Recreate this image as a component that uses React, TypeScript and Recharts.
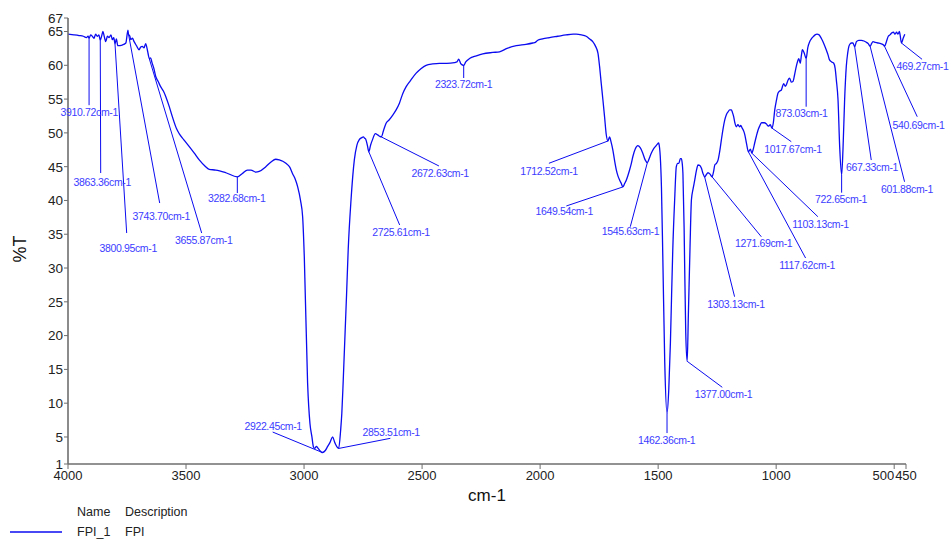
import { LineChart, Line, XAxis, YAxis, ReferenceLine, ReferenceDot } from 'recharts';

// FTIR transmittance spectrum, wavenumber (cm-1) descending
const wavenumbers = [
  4000, 3975, 3953, 3935, 3922, 3915, 3910.72, 3904, 3897, 3890, 3883, 3876, 3869, 3863.36, 3857, 3852,
  3846, 3840, 3833, 3826, 3818, 3812, 3806, 3800.95, 3795, 3789, 3770, 3755, 3746, 3743.7, 3738, 3734,
  3727, 3720, 3710, 3699, 3692, 3685, 3678, 3671, 3664, 3660, 3655.87, 3650, 3645, 3636, 3628, 3618,
  3607, 3596, 3586, 3572, 3558, 3540, 3529, 3510, 3487, 3465, 3444, 3420, 3402, 3374, 3331, 3282.68,
  3261, 3240, 3225, 3205, 3190, 3162, 3140, 3120, 3105, 3090, 3077, 3060, 3049, 3038, 3027, 3015,
  3006, 2999, 2985, 2975, 2967, 2960, 2955, 2948, 2940, 2922.45, 2910, 2900, 2890, 2879, 2870, 2865,
  2853.51, 2845, 2840, 2834, 2820, 2813, 2801, 2787, 2776, 2766, 2755, 2749, 2743, 2738, 2732, 2725.61,
  2718, 2710, 2698, 2688, 2680, 2672.63, 2663, 2653, 2640, 2625, 2610, 2596, 2582, 2568, 2550, 2526,
  2505, 2483, 2455, 2427, 2395, 2363, 2352, 2345, 2335, 2323.72, 2315, 2299, 2270, 2243, 2200, 2172,
  2140, 2101, 2060, 2031, 2020, 2010, 1990, 1960, 1925, 1890, 1860, 1847, 1825, 1805, 1790, 1777,
  1765, 1755, 1748, 1741, 1734, 1727, 1720, 1712.52, 1706, 1699, 1692, 1685, 1677, 1670, 1663, 1656,
  1649.54, 1642, 1635, 1628, 1621, 1614, 1607, 1597, 1586, 1576, 1565, 1555, 1545.63, 1537, 1529, 1520,
  1511, 1504, 1498, 1494, 1491, 1486, 1480, 1472, 1462.36, 1455, 1448, 1443, 1438, 1430, 1423, 1417,
  1412, 1406, 1402, 1398, 1395, 1390, 1388, 1383, 1377, 1372, 1365, 1359, 1352, 1345, 1338, 1331,
  1324, 1317, 1310, 1303.13, 1296, 1289, 1280, 1271.69, 1265, 1260, 1253, 1246, 1239, 1232, 1225, 1218,
  1211, 1204, 1197, 1190, 1185, 1180, 1175, 1169, 1162, 1155, 1150, 1144, 1139, 1134, 1126, 1117.62,
  1109, 1103.13, 1097, 1091, 1084, 1077, 1070, 1062, 1050, 1041, 1033, 1025, 1017.67, 1012, 1006, 999,
  992, 985, 978, 972, 968, 962, 957, 950, 943, 936, 929, 922, 915, 909, 904, 898,
  893, 889, 881, 873.03, 866, 858, 851, 844, 835, 827, 818, 809, 798, 788, 780, 774,
  765, 756, 750, 745, 738, 731, 722.65, 717, 710, 703, 697, 692, 686, 681, 675, 667.33,
  660, 650, 639, 628, 618, 610, 601.88, 596, 590, 580, 569, 557, 545, 540.69, 533, 525,
  518, 510, 503, 497, 490, 484, 478, 475, 469.27, 462, 455,
];

const transmittance = [
  64.6, 64.5, 64.4, 64.3, 64.1, 64.3, 64.0, 64.5, 64.3, 64.0, 64.6, 64.3, 64.5, 63.7, 64.4, 65.0,
  64.2, 63.5, 64.3, 64.1, 64.5, 63.8, 64.1, 63.2, 63.9, 62.9, 63.0, 63.3, 65.2, 64.6, 64.3, 63.8,
  64.0, 63.5, 62.9, 62.3, 62.7, 62.8, 62.6, 63.2, 62.3, 61.6, 61.0, 61.1, 60.5, 59.5, 58.3, 57.6,
  56.8, 56.2, 55.4, 54.0, 52.4, 50.6, 49.9, 49.0, 48.0, 47.0, 46.0, 45.1, 44.6, 44.5, 44.1, 43.5,
  44.0, 44.5, 44.5, 44.2, 44.3, 45.0, 45.7, 46.1, 46.0, 45.8, 45.5, 44.9, 44.0, 43.2, 42.0, 40.0,
  37.6, 31.7, 13.0, 7.0, 5.1, 3.5, 3.3, 3.6, 3.3, 2.7, 3.0, 3.6, 4.2, 5.0, 4.2, 3.8,
  3.3, 6.0, 8.5, 13.4, 26.0, 32.7, 40.1, 46.0, 48.2, 49.0, 49.3, 49.4, 49.2, 49.0, 48.2, 47.2,
  48.2, 49.0, 49.9, 49.7, 49.5, 49.4, 50.4, 51.4, 51.9, 52.6, 53.4, 54.4, 55.8, 56.8, 57.7, 58.8,
  59.5, 60.0, 60.2, 60.3, 60.3, 60.4, 60.5, 60.9, 60.2, 60.0, 60.5, 61.0, 61.4, 61.7, 61.9, 62.0,
  62.5, 62.9, 63.1, 63.3, 63.4, 63.7, 63.9, 64.1, 64.3, 64.5, 64.6, 64.6, 64.5, 64.3, 63.9, 63.5,
  62.8, 61.8, 59.8, 57.3, 54.9, 52.4, 49.8, 48.8, 49.4, 48.6, 47.5, 46.0, 44.5, 43.6, 43.0, 42.5,
  42.0, 42.5, 43.0, 43.7, 44.5, 45.4, 46.5, 47.6, 48.1, 47.8, 47.0, 46.0, 45.6, 46.3, 47.0, 47.6,
  48.0, 48.3, 48.5, 47.8, 46.5, 42.0, 31.2, 16.0, 8.5, 12.0, 19.0, 26.0, 32.7, 40.1, 45.0, 45.5,
  45.5, 46.2, 46.2, 45.5, 44.0, 36.0, 31.2, 20.4, 16.2, 23.0, 33.0, 40.1, 41.7, 43.0, 44.4, 45.25,
  45.2, 44.8, 44.0, 43.5, 43.8, 44.1, 43.9, 43.5, 44.3, 45.25, 45.5, 46.0, 47.3, 49.0, 50.6, 51.9,
  52.7, 53.1, 53.4, 53.4, 53.0, 52.4, 51.5, 50.9, 51.2, 50.9, 51.1, 50.7, 50.4, 49.9, 48.5, 47.2,
  47.6, 47.0, 47.6, 48.5, 49.5, 50.4, 51.0, 51.5, 51.5, 51.3, 51.0, 51.2, 50.7, 51.5, 53.4, 54.8,
  55.9, 56.2, 56.35, 57.0, 57.3, 56.9, 57.1, 57.8, 58.1, 57.5, 57.6, 58.6, 59.8, 60.6, 61.0, 60.3,
  61.5, 62.3, 61.8, 61.0, 62.6, 63.5, 63.9, 64.2, 64.5, 64.6, 64.5, 64.0, 63.2, 62.3, 61.5, 60.8,
  60.5, 60.3, 59.5, 57.8, 54.9, 48.0, 43.8, 47.5, 54.9, 59.8, 61.8, 62.8, 63.2, 63.3, 63.3, 62.75,
  63.5, 63.7, 63.7, 63.6, 63.4, 63.2, 62.8, 63.2, 63.5, 63.4, 63.3, 63.2, 63.0, 62.8, 63.5, 64.3,
  64.5, 64.8, 64.9, 64.6, 64.9, 64.6, 65.0, 64.5, 63.3, 64.0, 64.6,
];

// picked peaks (cm-1)
const peakWavenumbers = [
  3910.72, 3863.36, 3800.95, 3743.70, 3655.87, 3282.68, 2922.45, 2853.51, 2725.61, 2672.63,
  2323.72, 1712.52, 1649.54, 1545.63, 1462.36, 1377.00, 1303.13, 1271.69, 1117.62, 1103.13,
  1017.67, 873.03, 722.65, 667.33, 601.88, 540.69, 469.27,
];

// where each callout leader ends, and where its text is centred (cm-1, %T)
const leaderEnds = [
  [3910.72, 54.1], [3861.5, 44.06], [3751.4, 35.18], [3611.6, 39.62], [3433.7, 35.18],
  [3282.68, 41.1], [3133, 5.73], [2634.5, 4.8], [2595, 36.37], [2428.6, 45.1],
  [2323.72, 58.12], [1962.7, 45.5], [1889, 39.18], [1618, 36.11], [1462.36, 5.58],
  [1228.3, 12.35], [1176.2, 25.76], [1063, 34.63], [875.4, 31.48], [823.4, 37.6],
  [936, 48.7], [873.03, 53.87], [722.65, 41.15], [597.2, 45.98], [456.1, 42.77],
  [402.4, 52.39], [382, 60.89],
];
const calloutCentres = [
  [3910, 53.0], [3855, 42.66], [3745, 32.96], [3605, 37.7], [3425, 34.15],
  [3285, 40.36], [3131, 6.62], [2631, 5.66], [2589, 35.26], [2423.6, 44.06],
  [2324, 57.23], [1962, 44.36], [1898, 38.44], [1617, 35.48], [1464, 4.48],
  [1222.8, 11.28], [1170, 24.67], [1053, 33.7], [869, 30.37], [812, 36.51],
  [928.5, 47.61], [892.4, 52.94], [725, 40.21], [593.8, 44.95], [445.6, 41.69],
  [396.8, 51.16], [380, 59.9],
];

const xTicks = [4000, 3500, 3000, 2500, 2000, 1500, 1000, 500, 450];
const yTicks = [1, 5, 10, 15, 20, 25, 30, 35, 40, 45, 50, 55, 60, 65, 67];

const FONT = '"Liberation Sans", Arial, sans-serif';
const LINE_BLUE = '#0b0bf0';
const TEXT_BLUE = '#3c3cff';
const AXIS_GREY = '#6e6e6e';

const spectrum = wavenumbers.map((w, i) => ({ w, t: transmittance[i] }));
const peaks = peakWavenumbers.map((w, i) => ({
  w,
  t: transmittance[wavenumbers.indexOf(w)],
  end: leaderEnds[i],
  text: calloutCentres[i],
}));

const WaveTick = ({ x, y, payload }: any) => (
  // 500 and 450 sit close together, so 500 is set against the left of its tick
  <text
    x={x}
    y={y}
    dy="0.71em"
    textAnchor={payload.value === 500 ? 'end' : 'middle'}
    fontSize={13}
    fontFamily={FONT}
    fill="#222"
  >
    {payload.value}
  </text>
);

const PercentTick = ({ x, y, payload }: any) => (
  <text x={x} y={y} dy="0.36em" textAnchor="end" fontSize={13.5} fontFamily={FONT} fill="#222">
    {payload.value}
  </text>
);

export default function App() {
  return (
    <div style={{ position: 'absolute', left: 0, top: 0, width: 949, height: 540, background: '#fff' }}>
      <LineChart
        width={949}
        height={540}
        data={spectrum}
        margin={{ top: 18, right: 43, bottom: 0, left: 0 }}
      >
        <XAxis
          dataKey="w"
          type="number"
          domain={[450, 4000]}
          reversed
          allowDataOverflow
          ticks={xTicks}
          interval={0}
          height={76}
          tick={<WaveTick />}
          tickSize={5}
          tickMargin={2}
          axisLine={{ stroke: AXIS_GREY, strokeWidth: 1.6 }}
          tickLine={{ stroke: AXIS_GREY }}
          label={({ viewBox }: any) => (
            <text
              x={viewBox.x + viewBox.width / 2}
              y={viewBox.y + 31}
              dy="0.35em"
              textAnchor="middle"
              fontSize={17}
              fontFamily={FONT}
              fill="#111"
            >
              cm-1
            </text>
          )}
        />
        <YAxis
          type="number"
          domain={[1, 67]}
          allowDataOverflow
          ticks={yTicks}
          interval={0}
          width={68}
          tick={<PercentTick />}
          tickSize={4}
          tickMargin={1}
          axisLine={{ stroke: AXIS_GREY, strokeWidth: 1.6 }}
          tickLine={{ stroke: AXIS_GREY }}
          label={({ viewBox }: any) => {
            const cx = viewBox.x + 20;
            const cy = viewBox.y + viewBox.height / 2 + 8;
            return (
              <text
                x={cx}
                y={cy}
                dy="0.35em"
                textAnchor="middle"
                fontSize={18}
                fontFamily={FONT}
                fill="#111"
                transform={`rotate(-90, ${cx}, ${cy})`}
              >
                %T
              </text>
            );
          }}
        />
        <Line
          dataKey="t"
          name="FPI_1"
          type="monotone"
          stroke={LINE_BLUE}
          strokeWidth={1.3}
          dot={false}
          isAnimationActive={false}
        />
        {peaks.map((p) => (
          <ReferenceLine
            key={`lead-${p.w}`}
            segment={[{ x: p.w, y: p.t }, { x: p.end[0], y: p.end[1] }]}
            stroke={LINE_BLUE}
            strokeWidth={1}
            ifOverflow="visible"
          />
        ))}
        {peaks.map((p) => (
          <ReferenceDot
            key={`tag-${p.w}`}
            x={p.text[0]}
            y={p.text[1]}
            r={0}
            ifOverflow="visible"
            shape={({ cx, cy }: any) => (
              <text
                x={cx}
                y={cy}
                dy="0.35em"
                textAnchor="middle"
                fontSize={10.5}
                letterSpacing={-0.35}
                fontFamily={FONT}
                fill={TEXT_BLUE}
              >
                {`${p.w.toFixed(2)}cm-1`}
              </text>
            )}
          />
        ))}
      </LineChart>
      <svg style={{ position: 'absolute', left: 0, top: 498 }} width={220} height={42}>
        <text x={77} y={14} dy="0.35em" fontSize={12.5} fontFamily={FONT} fill="#222">Name</text>
        <text x={125} y={14} dy="0.35em" fontSize={12.5} fontFamily={FONT} fill="#222">Description</text>
        <line x1={10} x2={62} y1={34} y2={34} stroke={LINE_BLUE} strokeWidth={1.3} />
        <text x={77} y={34} dy="0.35em" fontSize={12.5} fontFamily={FONT} fill="#222">FPI_1</text>
        <text x={125} y={34} dy="0.35em" fontSize={12.5} fontFamily={FONT} fill="#222">FPI</text>
      </svg>
    </div>
  );
}
